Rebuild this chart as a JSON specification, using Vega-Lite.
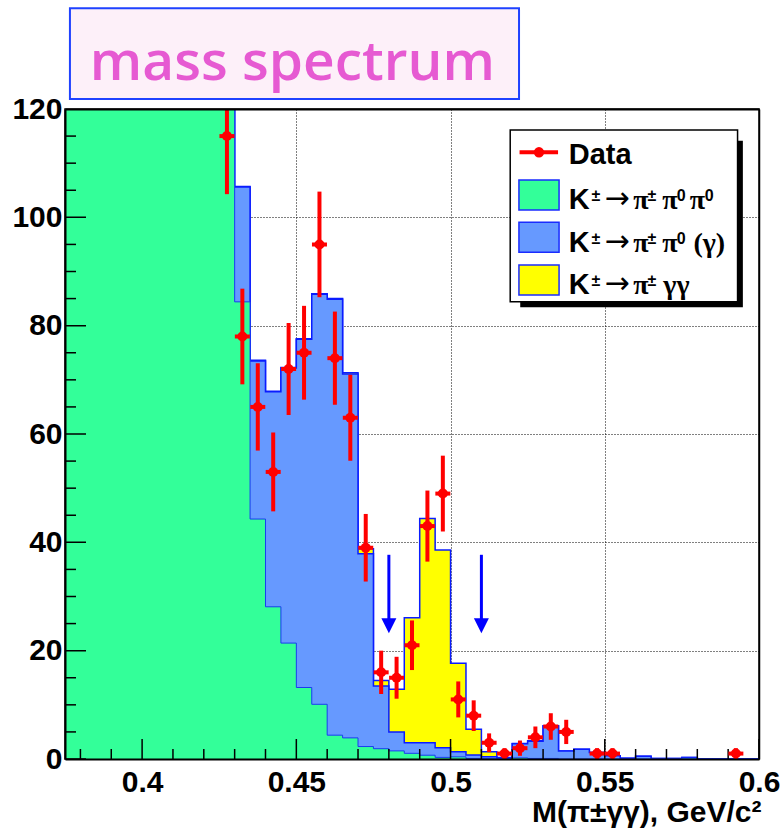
{
  "$schema": "https://vega.github.io/schema/vega-lite/v6.json",
  "width": 694,
  "height": 650,
  "autosize": {"type": "none"},
  "padding": {"left": 65, "top": 109, "right": 24, "bottom": 72},
  "background": "white",
  "config": {"view": {"stroke": "#000", "strokeWidth": 1.5}, "font": "Liberation Sans"},
  "datasets": {
    "hist": [
      {"x": 0.375, "g": 900, "b": 920, "t": 920},
      {"x": 0.38, "g": 1100, "b": 1125, "t": 1125},
      {"x": 0.385, "g": 1300, "b": 1330, "t": 1330},
      {"x": 0.39, "g": 1450, "b": 1480, "t": 1480},
      {"x": 0.395, "g": 1500, "b": 1530, "t": 1530},
      {"x": 0.4, "g": 1450, "b": 1480, "t": 1480},
      {"x": 0.405, "g": 1300, "b": 1330, "t": 1330},
      {"x": 0.41, "g": 1050, "b": 1080, "t": 1080},
      {"x": 0.415, "g": 750, "b": 780, "t": 780},
      {"x": 0.42, "g": 450, "b": 480, "t": 480},
      {"x": 0.425, "g": 200, "b": 225, "t": 225},
      {"x": 0.43, "g": 84.4, "b": 105.6, "t": 105.7},
      {"x": 0.435, "g": 44.3, "b": 73.5, "t": 73.6},
      {"x": 0.44, "g": 28.1, "b": 67.8, "t": 67.9},
      {"x": 0.445, "g": 21.4, "b": 72.2, "t": 72.3},
      {"x": 0.45, "g": 13.2, "b": 77.5, "t": 77.6},
      {"x": 0.455, "g": 10.1, "b": 85.8, "t": 85.9},
      {"x": 0.46, "g": 4.4, "b": 84.9, "t": 85.0},
      {"x": 0.465, "g": 3.9, "b": 71.1, "t": 71.3},
      {"x": 0.47, "g": 2.3, "b": 37.9, "t": 38.8},
      {"x": 0.475, "g": 1.9, "b": 13.5, "t": 14.5},
      {"x": 0.48, "g": 1.5, "b": 5.0, "t": 12.9},
      {"x": 0.485, "g": 1.05, "b": 3.0, "t": 26.1},
      {"x": 0.49, "g": 0.7, "b": 3.0, "t": 44.4},
      {"x": 0.495, "g": 0.3, "b": 2.1, "t": 38.6},
      {"x": 0.5, "g": 0.4, "b": 1.35, "t": 17.7},
      {"x": 0.505, "g": 0.1, "b": 0.74, "t": 5.5},
      {"x": 0.51, "g": 0.05, "b": 0.4, "t": 1.35},
      {"x": 0.515, "g": 0, "b": 0.15, "t": 0.3},
      {"x": 0.52, "g": 0.2, "b": 2.8, "t": 2.85},
      {"x": 0.525, "g": 0.1, "b": 3.3, "t": 3.35},
      {"x": 0.53, "g": 0.1, "b": 6.1, "t": 6.15},
      {"x": 0.535, "g": 0, "b": 1.5, "t": 1.5},
      {"x": 0.54, "g": 0, "b": 1.8, "t": 1.8},
      {"x": 0.545, "g": 0, "b": 1.2, "t": 1.2},
      {"x": 0.55, "g": 0, "b": 0.6, "t": 0.6},
      {"x": 0.555, "g": 0, "b": 0.15, "t": 0.15},
      {"x": 0.56, "g": 0, "b": 0.5, "t": 0.5},
      {"x": 0.565, "g": 0, "b": 0.1, "t": 0.1},
      {"x": 0.57, "g": 0, "b": 0.1, "t": 0.1},
      {"x": 0.575, "g": 0.15, "b": 0.3, "t": 0.3},
      {"x": 0.58, "g": 0, "b": 0.05, "t": 0.05},
      {"x": 0.585, "g": 0, "b": 0.05, "t": 0.05},
      {"x": 0.59, "g": 0, "b": 0, "t": 0},
      {"x": 0.595, "g": 0, "b": 0, "t": 0},
      {"x": 0.6, "g": 0, "b": 0, "t": 0}
    ],
    "data": [
      {"x": 0.4275, "n": 115, "lo": 104.28, "hi": 125.72},
      {"x": 0.4325, "n": 78, "lo": 69.17, "hi": 86.83},
      {"x": 0.4375, "n": 65, "lo": 56.94, "hi": 73.06},
      {"x": 0.4425, "n": 53, "lo": 45.72, "hi": 60.28},
      {"x": 0.4475, "n": 72, "lo": 63.51, "hi": 80.49},
      {"x": 0.4525, "n": 75, "lo": 66.34, "hi": 83.66},
      {"x": 0.4575, "n": 95, "lo": 85.25, "hi": 104.75},
      {"x": 0.4625, "n": 74, "lo": 65.4, "hi": 82.6},
      {"x": 0.4675, "n": 63, "lo": 55.06, "hi": 70.94},
      {"x": 0.4725, "n": 39, "lo": 32.76, "hi": 45.24},
      {"x": 0.4775, "n": 16, "lo": 12, "hi": 20},
      {"x": 0.4825, "n": 15, "lo": 11.13, "hi": 18.87},
      {"x": 0.4875, "n": 21, "lo": 16.42, "hi": 25.58},
      {"x": 0.4925, "n": 43, "lo": 36.44, "hi": 49.56},
      {"x": 0.4975, "n": 49, "lo": 42, "hi": 56},
      {"x": 0.5025, "n": 11, "lo": 7.68, "hi": 14.32},
      {"x": 0.5075, "n": 8, "lo": 5.17, "hi": 10.83},
      {"x": 0.5125, "n": 3, "lo": 1.27, "hi": 4.73},
      {"x": 0.5175, "n": 1, "lo": 0, "hi": 2},
      {"x": 0.5225, "n": 2, "lo": 0.59, "hi": 3.41},
      {"x": 0.5275, "n": 4, "lo": 2, "hi": 6},
      {"x": 0.5325, "n": 6, "lo": 3.55, "hi": 8.45},
      {"x": 0.5375, "n": 5, "lo": 2.76, "hi": 7.24},
      {"x": 0.5475, "n": 1, "lo": 0, "hi": 2},
      {"x": 0.5525, "n": 1, "lo": 0, "hi": 2},
      {"x": 0.5925, "n": 1, "lo": 0, "hi": 2}
    ],
    "xticks": [
      {"v": 0.38, "major": false}, {"v": 0.39, "major": false}, {"v": 0.4, "major": true},
      {"v": 0.41, "major": false}, {"v": 0.42, "major": false}, {"v": 0.43, "major": false},
      {"v": 0.44, "major": false}, {"v": 0.45, "major": true}, {"v": 0.46, "major": false},
      {"v": 0.47, "major": false}, {"v": 0.48, "major": false}, {"v": 0.49, "major": false},
      {"v": 0.5, "major": true}, {"v": 0.51, "major": false}, {"v": 0.52, "major": false},
      {"v": 0.53, "major": false}, {"v": 0.54, "major": false}, {"v": 0.55, "major": true},
      {"v": 0.56, "major": false}, {"v": 0.57, "major": false}, {"v": 0.58, "major": false},
      {"v": 0.59, "major": false}, {"v": 0.6, "major": true}
    ],
    "yticks": [
      {"v": 0, "major": true}, {"v": 5, "major": false}, {"v": 10, "major": false}, {"v": 15, "major": false},
      {"v": 20, "major": true}, {"v": 25, "major": false}, {"v": 30, "major": false}, {"v": 35, "major": false},
      {"v": 40, "major": true}, {"v": 45, "major": false}, {"v": 50, "major": false}, {"v": 55, "major": false},
      {"v": 60, "major": true}, {"v": 65, "major": false}, {"v": 70, "major": false}, {"v": 75, "major": false},
      {"v": 80, "major": true}, {"v": 85, "major": false}, {"v": 90, "major": false}, {"v": 95, "major": false},
      {"v": 100, "major": true}, {"v": 105, "major": false}, {"v": 110, "major": false}, {"v": 115, "major": false},
      {"v": 120, "major": true}
    ],
    "arrows": [
      {"x": 0.48, "top": 37.7, "base": 25.5, "head": 24.6},
      {"x": 0.51, "top": 37.7, "base": 25.5, "head": 24.6}
    ],
    "boxes": [
      {"kind": "titlebox", "x1": 0.3766, "x2": 0.5222, "y1": 138.6, "y2": 121.85},
      {"kind": "shadow", "x1": 0.52259, "x2": 0.59477, "y1": 114.15, "y2": 83.39},
      {"kind": "legend", "x1": 0.51934, "x2": 0.59305, "y1": 116.12, "y2": 84.42}
    ],
    "swatches": [
      {"k": "K3pi", "x1": 0.52217, "x2": 0.53518, "y1": 106.89, "y2": 101.35},
      {"k": "Kpi2g", "x1": 0.52217, "x2": 0.53518, "y1": 99.08, "y2": 93.54},
      {"k": "Kpigg", "x1": 0.52217, "x2": 0.53518, "y1": 91.2, "y2": 85.66}
    ],
    "legdata": [
      {"x1": 0.52237, "x2": 0.53485, "xc": 0.52867, "y": 112.0}
    ],
    "legtext": [
      {"x": 0.5383, "y": 101.48, "s": "K", "part": "latin"},
      {"x": 0.54568, "y": 101.48, "s": "±", "part": "sup"},
      {"x": 0.5499, "y": 101.48, "s": "→", "part": "arrow"},
      {"x": 0.55923, "y": 101.48, "s": "π", "part": "greek"},
      {"x": 0.56388, "y": 101.48, "s": "±", "part": "sup"},
      {"x": 0.56866, "y": 101.48, "s": "π", "part": "greek"},
      {"x": 0.57331, "y": 101.48, "s": "0", "part": "sup"},
      {"x": 0.57753, "y": 101.48, "s": "π", "part": "greek"},
      {"x": 0.58241, "y": 101.48, "s": "0", "part": "sup"},
      {"x": 0.5383, "y": 93.69, "s": "K", "part": "latin"},
      {"x": 0.54568, "y": 93.69, "s": "±", "part": "sup"},
      {"x": 0.5499, "y": 93.69, "s": "→", "part": "arrow"},
      {"x": 0.55923, "y": 93.69, "s": "π", "part": "greek"},
      {"x": 0.56388, "y": 93.69, "s": "±", "part": "sup"},
      {"x": 0.56866, "y": 93.69, "s": "π", "part": "greek"},
      {"x": 0.57331, "y": 93.69, "s": "0", "part": "sup"},
      {"x": 0.57874, "y": 93.69, "s": "(γ)", "part": "greek"},
      {"x": 0.5383, "y": 85.85, "s": "K", "part": "latin"},
      {"x": 0.54568, "y": 85.85, "s": "±", "part": "sup"},
      {"x": 0.5499, "y": 85.85, "s": "→", "part": "arrow"},
      {"x": 0.55923, "y": 85.85, "s": "π", "part": "greek"},
      {"x": 0.56388, "y": 85.85, "s": "±", "part": "sup"},
      {"x": 0.56899, "y": 85.85, "s": "γγ", "part": "greek"}
    ],
    "labels": [
      {"kind": "title", "x": 0.4487, "y": 125.35, "s": "mass spectrum"},
      {"kind": "data", "x": 0.5383, "y": 109.8, "s": "Data"}
    ]
  },
  "layer": [
    {
      "data": {"name": "hist"},
      "mark": {"type": "area", "interpolate": "step-after", "clip": true, "color": "#ffff00", "opacity": 1},
      "encoding": {
        "x": {"field": "x", "type": "quantitative", "scale": {"domain": [0.375, 0.6], "nice": false, "zero": false},
          "axis": {"orient": "bottom", "values": [0.4, 0.45, 0.5, 0.55], "grid": true, "gridColor": "#000", "gridDash": [1, 2], "gridWidth": 1, "ticks": false, "labels": false, "domain": false, "title": null, "zindex": 0}},
        "y": {"field": "t", "type": "quantitative", "scale": {"domain": [0, 120], "nice": false},
          "axis": {"orient": "left", "values": [20, 40, 60, 80, 100], "grid": true, "gridColor": "#000", "gridDash": [1, 2], "gridWidth": 1, "ticks": false, "labels": false, "domain": false, "title": null, "zindex": 0}}
      }
    },
    {
      "data": {"name": "hist"},
      "mark": {"type": "line", "interpolate": "step-after", "clip": true, "color": "#0a1cff", "strokeWidth": 1.5},
      "encoding": {
        "x": {"field": "x", "type": "quantitative", "axis": null},
        "y": {"field": "t", "type": "quantitative", "axis": null}
      }
    },
    {
      "data": {"name": "hist"},
      "mark": {"type": "area", "interpolate": "step-after", "clip": true, "color": "#6699ff", "opacity": 1},
      "encoding": {
        "x": {"field": "x", "type": "quantitative",
          "axis": {"orient": "top", "domain": true, "domainColor": "#000", "domainWidth": 2, "ticks": false, "tickSize": 0, "labels": false, "grid": false, "title": null, "zindex": 2}},
        "y": {"field": "b", "type": "quantitative",
          "axis": {"orient": "right", "domain": true, "domainColor": "#000", "domainWidth": 1.5, "ticks": false, "tickSize": 0, "labels": false, "grid": false, "title": null, "zindex": 2}}
      }
    },
    {
      "data": {"name": "hist"},
      "mark": {"type": "line", "interpolate": "step-after", "clip": true, "color": "#0a1cff", "strokeWidth": 1.5},
      "encoding": {
        "x": {"field": "x", "type": "quantitative", "axis": null},
        "y": {"field": "b", "type": "quantitative", "axis": null}
      }
    },
    {
      "data": {"name": "hist"},
      "mark": {"type": "area", "interpolate": "step-after", "clip": true, "color": "#33ff99", "opacity": 1},
      "encoding": {
        "x": {"field": "x", "type": "quantitative",
          "axis": {"orient": "bottom", "values": [0.4, 0.45, 0.5, 0.55, 0.6], "format": ".2~f", "ticks": false, "tickSize": 0, "labelFont": "Liberation Sans", "labelFontWeight": "bold", "labelFontSize": 30, "labelColor": "#000", "labelPadding": 8, "labelFlush": false, "labelOverlap": false, "domain": true, "domainColor": "#000", "domainWidth": 2, "grid": false, "zindex": 2,
            "title": "M(π±γγ), GeV/c²", "titleFont": "Liberation Sans", "titleFontWeight": "bold", "titleFontSize": 30, "titleColor": "#000", "titleAnchor": "end", "titleAlign": "right", "titleBaseline": "alphabetic", "titleX": 696, "titleY": 62}},
        "y": {"field": "g", "type": "quantitative",
          "axis": {"orient": "left", "values": [0, 20, 40, 60, 80, 100, 120], "format": "d", "ticks": false, "tickSize": 0, "labelFont": "Liberation Sans", "labelFontWeight": "bold", "labelFontSize": 30, "labelColor": "#000", "labelPadding": 3, "labelFlush": false, "labelOverlap": false, "domain": true, "domainColor": "#000", "domainWidth": 2, "grid": false, "title": null, "zindex": 2}}
      }
    },
    {
      "data": {"name": "hist"},
      "mark": {"type": "line", "interpolate": "step-after", "clip": true, "color": "#1a3cf0", "strokeWidth": 1},
      "encoding": {
        "x": {"field": "x", "type": "quantitative", "axis": null},
        "y": {"field": "g", "type": "quantitative", "axis": null}
      }
    },
    {
      "data": {"name": "xticks"},
      "transform": [{"filter": "datum.major"}],
      "mark": {"type": "tick", "orient": "vertical", "color": "#000", "size": 40, "thickness": 1.5, "opacity": 1, "clip": true},
      "encoding": {
        "x": {"field": "v", "type": "quantitative", "axis": null},
        "y": {"datum": 0, "type": "quantitative", "axis": null}
      }
    },
    {
      "data": {"name": "xticks"},
      "transform": [{"filter": "!datum.major"}],
      "mark": {"type": "tick", "orient": "vertical", "color": "#000", "size": 20, "thickness": 1.5, "opacity": 1, "clip": true},
      "encoding": {
        "x": {"field": "v", "type": "quantitative", "axis": null},
        "y": {"datum": 0, "type": "quantitative", "axis": null}
      }
    },
    {
      "data": {"name": "yticks"},
      "transform": [{"filter": "datum.major"}],
      "mark": {"type": "tick", "orient": "horizontal", "color": "#000", "size": 42, "thickness": 1.5, "opacity": 1, "clip": true},
      "encoding": {
        "y": {"field": "v", "type": "quantitative", "axis": null},
        "x": {"datum": 0.375, "type": "quantitative", "axis": null}
      }
    },
    {
      "data": {"name": "yticks"},
      "transform": [{"filter": "!datum.major"}],
      "mark": {"type": "tick", "orient": "horizontal", "color": "#000", "size": 22, "thickness": 1.5, "opacity": 1, "clip": true},
      "encoding": {
        "y": {"field": "v", "type": "quantitative", "axis": null},
        "x": {"datum": 0.375, "type": "quantitative", "axis": null}
      }
    },
    {
      "data": {"name": "arrows"},
      "mark": {"type": "rule", "color": "#0000ff", "strokeWidth": 3},
      "encoding": {
        "x": {"field": "x", "type": "quantitative", "axis": null},
        "y": {"field": "top", "type": "quantitative", "axis": null},
        "y2": {"field": "base"}
      }
    },
    {
      "data": {"name": "arrows"},
      "mark": {"type": "point", "shape": "M-1,-1L1,-1L0,1Z", "filled": true, "color": "#0000ff", "opacity": 1, "size": 225},
      "encoding": {
        "x": {"field": "x", "type": "quantitative", "axis": null},
        "y": {"field": "head", "type": "quantitative", "axis": null}
      }
    },
    {
      "data": {"name": "data"},
      "mark": {"type": "rule", "color": "#ff0000", "strokeWidth": 4, "clip": true},
      "encoding": {
        "x": {"field": "x", "type": "quantitative", "axis": null},
        "y": {"field": "lo", "type": "quantitative", "axis": null},
        "y2": {"field": "hi"}
      }
    },
    {
      "data": {"name": "data"},
      "mark": {"type": "tick", "orient": "horizontal", "color": "#ff0000", "size": 15, "thickness": 4, "opacity": 1, "clip": true},
      "encoding": {
        "x": {"field": "x", "type": "quantitative", "axis": null},
        "y": {"field": "n", "type": "quantitative", "axis": null}
      }
    },
    {
      "data": {"name": "data"},
      "mark": {"type": "circle", "color": "#ff0000", "size": 100, "opacity": 1, "clip": true},
      "encoding": {
        "x": {"field": "x", "type": "quantitative", "axis": null},
        "y": {"field": "n", "type": "quantitative", "axis": null}
      }
    },
    {
      "data": {"name": "boxes"},
      "transform": [{"filter": "datum.kind == 'titlebox'"}],
      "mark": {"type": "rect", "fill": "#fdf0f9", "stroke": "#1f42ff", "strokeWidth": 2},
      "encoding": {
        "x": {"field": "x1", "type": "quantitative", "axis": null},
        "x2": {"field": "x2"},
        "y": {"field": "y1", "type": "quantitative", "axis": null},
        "y2": {"field": "y2"}
      }
    },
    {
      "data": {"name": "boxes"},
      "transform": [{"filter": "datum.kind == 'shadow'"}],
      "mark": {"type": "rect", "fill": "#000"},
      "encoding": {
        "x": {"field": "x1", "type": "quantitative", "axis": null},
        "x2": {"field": "x2"},
        "y": {"field": "y1", "type": "quantitative", "axis": null},
        "y2": {"field": "y2"}
      }
    },
    {
      "data": {"name": "boxes"},
      "transform": [{"filter": "datum.kind == 'legend'"}],
      "mark": {"type": "rect", "fill": "#fff", "stroke": "#000", "strokeWidth": 1.5},
      "encoding": {
        "x": {"field": "x1", "type": "quantitative", "axis": null},
        "x2": {"field": "x2"},
        "y": {"field": "y1", "type": "quantitative", "axis": null},
        "y2": {"field": "y2"}
      }
    },
    {
      "data": {"name": "swatches"},
      "mark": {"type": "rect", "stroke": "#1a2cff", "strokeWidth": 1.5, "opacity": 1},
      "encoding": {
        "x": {"field": "x1", "type": "quantitative", "axis": null},
        "x2": {"field": "x2"},
        "y": {"field": "y1", "type": "quantitative", "axis": null},
        "y2": {"field": "y2"},
        "fill": {"field": "k", "type": "nominal", "scale": {"domain": ["K3pi", "Kpi2g", "Kpigg"], "range": ["#33ff99", "#6699ff", "#ffff00"]}, "legend": null}
      }
    },
    {
      "data": {"name": "legdata"},
      "mark": {"type": "rule", "color": "#ff0000", "strokeWidth": 4},
      "encoding": {
        "x": {"field": "x1", "type": "quantitative", "axis": null},
        "x2": {"field": "x2"},
        "y": {"field": "y", "type": "quantitative", "axis": null}
      }
    },
    {
      "data": {"name": "legdata"},
      "mark": {"type": "circle", "color": "#ff0000", "size": 110, "opacity": 1},
      "encoding": {
        "x": {"field": "xc", "type": "quantitative", "axis": null},
        "y": {"field": "y", "type": "quantitative", "axis": null}
      }
    },
    {
      "data": {"name": "legtext"},
      "transform": [{"filter": "datum.part == 'latin'"}],
      "mark": {"type": "text", "align": "left", "baseline": "alphabetic", "font": "Liberation Sans", "fontWeight": "bold", "fontSize": 29, "color": "#000"},
      "encoding": {
        "x": {"field": "x", "type": "quantitative", "axis": null},
        "y": {"field": "y", "type": "quantitative", "axis": null},
        "text": {"field": "s"}
      }
    },
    {
      "data": {"name": "legtext"},
      "transform": [{"filter": "datum.part == 'greek'"}],
      "mark": {"type": "text", "align": "left", "baseline": "alphabetic", "font": "Liberation Serif", "fontWeight": "bold", "fontSize": 28, "color": "#000"},
      "encoding": {
        "x": {"field": "x", "type": "quantitative", "axis": null},
        "y": {"field": "y", "type": "quantitative", "axis": null},
        "text": {"field": "s"}
      }
    },
    {
      "data": {"name": "legtext"},
      "transform": [{"filter": "datum.part == 'arrow'"}],
      "mark": {"type": "text", "align": "left", "baseline": "alphabetic", "font": "DejaVu Sans", "fontSize": 30, "dy": -1, "color": "#000"},
      "encoding": {
        "x": {"field": "x", "type": "quantitative", "axis": null},
        "y": {"field": "y", "type": "quantitative", "axis": null},
        "text": {"field": "s"}
      }
    },
    {
      "data": {"name": "legtext"},
      "transform": [{"filter": "datum.part == 'sup'"}],
      "mark": {"type": "text", "align": "left", "baseline": "alphabetic", "font": "Liberation Sans", "fontWeight": "bold", "fontSize": 16, "dy": -8, "color": "#000"},
      "encoding": {
        "x": {"field": "x", "type": "quantitative", "axis": null},
        "y": {"field": "y", "type": "quantitative", "axis": null},
        "text": {"field": "s"}
      }
    },
    {
      "data": {"name": "labels"},
      "transform": [{"filter": "datum.kind == 'data'"}],
      "mark": {"type": "text", "align": "left", "baseline": "alphabetic", "font": "Liberation Sans", "fontWeight": "bold", "fontSize": 29, "color": "#000"},
      "encoding": {
        "x": {"field": "x", "type": "quantitative", "axis": null},
        "y": {"field": "y", "type": "quantitative", "axis": null},
        "text": {"field": "s"}
      }
    },
    {
      "data": {"name": "labels"},
      "transform": [{"filter": "datum.kind == 'title'"}],
      "mark": {"type": "text", "align": "center", "baseline": "alphabetic", "font": "Open Sans", "fontWeight": 600, "fontSize": 55, "color": "#e65ad2"},
      "encoding": {
        "x": {"field": "x", "type": "quantitative", "axis": null},
        "y": {"field": "y", "type": "quantitative", "axis": null},
        "text": {"field": "s"}
      }
    }
  ],
  "resolve": {"axis": {"x": "independent", "y": "independent"}}
}
